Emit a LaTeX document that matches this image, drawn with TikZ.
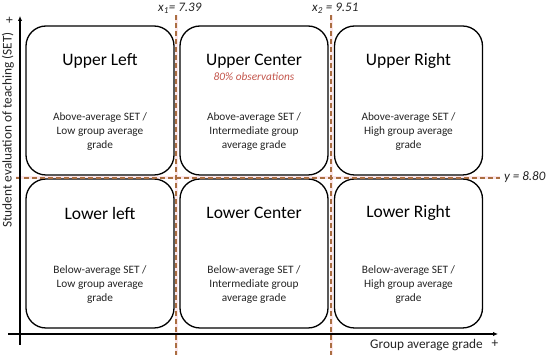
\documentclass[tikz,border=0pt]{standalone}
\usepackage{fontspec}
\setmainfont{Carlito}
\usetikzlibrary{arrows.meta}
\definecolor{dashc}{RGB}{170,110,65}
\definecolor{glowc}{RGB}{252,230,234}
\definecolor{obsc}{RGB}{195,85,75}
\definecolor{bodyc}{RGB}{35,35,35}
\begin{document}
\begin{tikzpicture}[x=1pt,y=-1pt,
  qbox/.style={draw=black,line width=1.3pt,rounded corners=20pt,minimum width=148pt,minimum height=149pt,inner sep=0pt},
  qtitle/.style={font=\fontsize{17.5}{20}\selectfont,text=black,inner sep=0pt},
  qbody/.style={font=\fontsize{11.3}{14}\selectfont,text=bodyc,align=center,inner sep=0pt},
  glow/.style={line width=3pt,glowc},
  cut/.style={line width=1.1pt,dashc,dash pattern=on 5pt off 3pt},
  lab/.style={font=\itshape\fontsize{13}{15}\selectfont,text=bodyc,inner sep=0pt},
  axis/.style={line width=1.2pt,black},
  axlab/.style={font=\fontsize{13.3}{15}\selectfont,text=bodyc,inner sep=0pt}]
\useasboundingbox (0,0) rectangle (550,355);
% guide line coordinates
\coordinate (v1t) at (176,15); \coordinate (v1b) at (176,355);
\coordinate (v2t) at (331,15); \coordinate (v2b) at (331,355);
\coordinate (hl) at (16,178);  \coordinate (hr) at (500,178);
\draw[glow] (v1t) -- (v1b);
\draw[glow] (v2t) -- (v2b);
\draw[glow] (hl) -- (hr);
% boxes
\node[qbox] (UL) at (100,100.5) {};
\node[qbox] (UC) at (254,100.5) {};
\node[qbox] (UR) at (408.5,100.5) {};
\node[qbox] (LL) at (100,253.5) {};
\node[qbox] (LC) at (254,253.5) {};
\node[qbox] (LR) at (408.5,253.5) {};
% titles
\node[qtitle] (ULt) at (100,61) {Upper Left};
\node[qtitle] (UCt) at (254,61) {Upper Center};
\node[qtitle] (URt) at (408.5,61) {Upper Right};
\node[qtitle] (LLt) at (100,213) {Lower left};
\node[qtitle] (LCt) at (254,213) {Lower Center};
\node[qtitle] (LRt) at (408.5,213) {Lower Right};
\node[font=\itshape\fontsize{11.3}{13}\selectfont,text=obsc,inner sep=0pt] (obs) at (254,77) {80\% observations};
% bodies
\node[qbody] (ULb) at (100,132) {Above-average SET /\\Low group average\\grade};
\node[qbody] (UCb) at (254,132) {Above-average SET /\\Intermediate group\\average grade};
\node[qbody] (URb) at (408.5,132) {Above-average SET /\\High group average\\grade};
\node[qbody] (LLb) at (100,284.5) {Below-average SET /\\Low group average\\grade};
\node[qbody] (LCb) at (254,284.5) {Below-average SET /\\Intermediate group\\average grade};
\node[qbody] (LRb) at (408.5,284.5) {Below-average SET /\\High group average\\grade};
% cut lines
\draw[cut] (v1t) -- (v1b);
\draw[cut] (v2t) -- (v2b);
\draw[cut] (hl) -- (hr);
\node[lab,anchor=west] (x1) at (158,8) {x\textsubscript{1}= 7.39};
\node[lab,anchor=west] (x2) at (312,8) {x\textsubscript{2} = 9.51};
\node[lab,anchor=west] (yv) at (504,177) {y = 8.80};
% axes
\coordinate (ya) at (20,345); \coordinate (yb) at (20,16);
\coordinate (xa) at (8,334);  \coordinate (xb) at (498,334);
\draw[axis,-{Latex[length=5pt,width=4.5pt]}] (ya) -- (yb);
\draw[axis,-{Latex[length=5pt,width=4.5pt]}] (xa) -- (xb);
\node[axlab,rotate=90] (ylab) at (8,130) {Student evaluation of teaching (SET)};
\node[axlab,rotate=90] (yplus) at (10,20) {+};
\node[axlab,anchor=east] (xlab) at (483,345) {Group average grade};
\node[axlab] (xplus) at (495,344) {+};
\end{tikzpicture}
\end{document}
